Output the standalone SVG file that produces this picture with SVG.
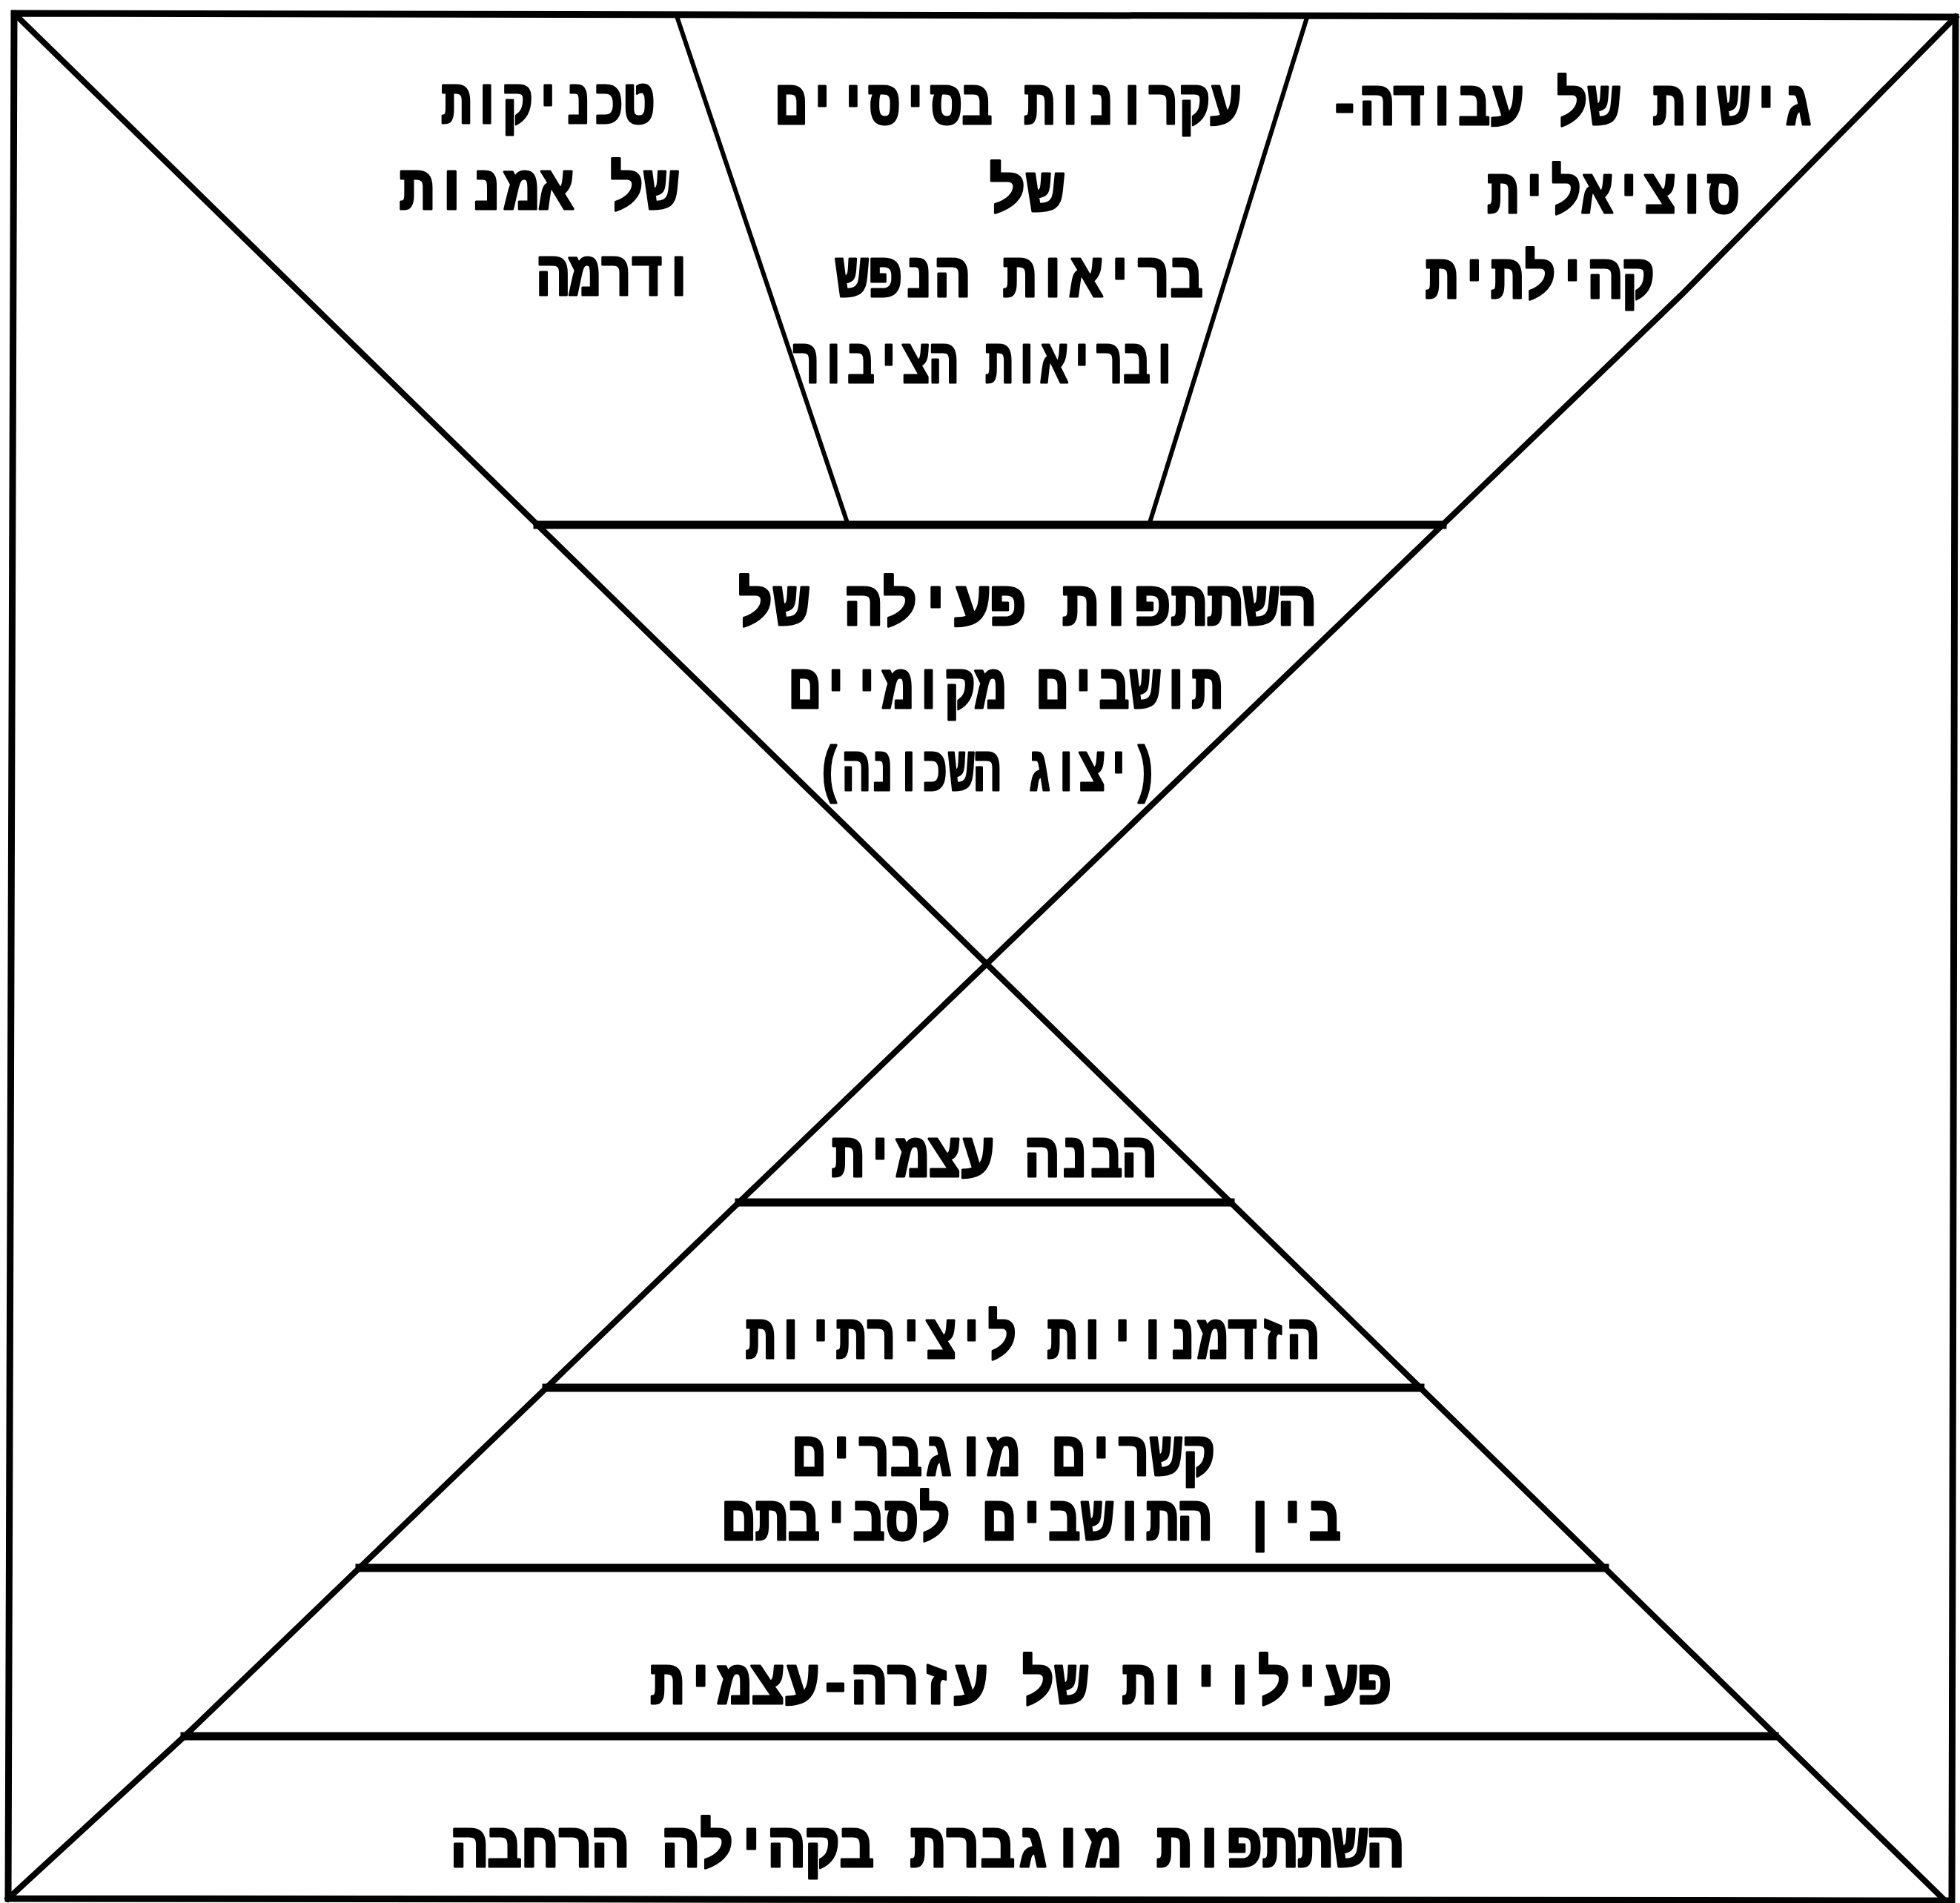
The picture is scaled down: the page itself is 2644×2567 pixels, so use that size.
<svg xmlns="http://www.w3.org/2000/svg" width="2644" height="2567" viewBox="0 0 2644 2567">
<style>
.ln{stroke:#000;fill:none;stroke-linecap:square;stroke-linejoin:miter}
.bd{stroke-width:9}
.dg{stroke-width:8}
.hz{stroke-width:11}
.sl{stroke-width:6}
.t{font-family:"Liberation Mono","DejaVu Sans Mono",monospace;font-weight:bold;font-size:84px;fill:#000;stroke:#000;stroke-width:3;stroke-linejoin:round;text-anchor:middle;direction:rtl;unicode-bidi:embed}
</style>
<rect x="0" y="0" width="2644" height="2567" fill="#fff"/>
<g id="connectors">
<polygon class="ln bd" points="19,18 2638,23 2633,2564 11,2561"/>
<line class="ln dg" x1="20" y1="19" x2="2624" y2="2564"/>
<polyline class="ln dg" points="2638,23 2268,398 249,2342 11,2561"/>
<line class="ln hz" x1="725" y1="708" x2="1946" y2="708"/>
<line class="ln sl" x1="914" y1="25" x2="1144" y2="708"/>
<line class="ln sl" x1="1762" y1="27" x2="1550" y2="708"/>
<line class="ln hz" x1="997" y1="1622" x2="1660" y2="1622"/>
<line class="ln hz" x1="737" y1="1872" x2="1916" y2="1872"/>
<line class="ln hz" x1="485" y1="2115" x2="2165" y2="2115"/>
<line class="ln hz" x1="249" y1="2342" x2="2394" y2="2342"/>
</g>
<g id="node-social-work">
<text class="t" x="2120" y="168" textLength="656" lengthAdjust="spacingAndGlyphs">גישות של עבודה-</text>
<text class="t" x="2176" y="287" textLength="340" lengthAdjust="spacingAndGlyphs">סוציאלית</text>
<text class="t" x="2077" y="402" textLength="309" lengthAdjust="spacingAndGlyphs">קהילתית</text>
</g>
<g id="node-mental-health">
<text class="t" x="1360" y="167" textLength="627" lengthAdjust="spacingAndGlyphs">עקרונות בסיסיים</text>
<text class="t" x="1384" y="285" textLength="103" lengthAdjust="spacingAndGlyphs">של</text>
<text class="t" x="1375" y="400" textLength="497" lengthAdjust="spacingAndGlyphs">בריאות הנפש</text>
<text class="t" x="1329" y="516" textLength="521" lengthAdjust="spacingAndGlyphs">ובריאות הציבור</text>
</g>
<g id="node-art-drama">
<text class="t" x="739" y="166" textLength="288" lengthAdjust="spacingAndGlyphs">טכניקות</text>
<text class="t" x="727" y="282" textLength="377" lengthAdjust="spacingAndGlyphs">של אמנות</text>
<text class="t" x="831" y="398" textLength="212" lengthAdjust="spacingAndGlyphs">ודרמה</text>
</g>
<g id="node-participation">
<text class="t" x="1384" y="843" textLength="780" lengthAdjust="spacingAndGlyphs">השתתפות פעילה של</text>
<text class="t" x="1357" y="955" textLength="584" lengthAdjust="spacingAndGlyphs">תושבים מקומיים</text>
<text class="t" x="1332" y="1066" textLength="460" lengthAdjust="spacingAndGlyphs">(יצוג השכונה)</text>
</g>
<g id="node-self-understanding">
<text class="t" x="1340" y="1587" textLength="437" lengthAdjust="spacingAndGlyphs">הבנה עצמית</text>
</g>
<g id="node-creativity">
<text class="t" x="1392" y="1832" textLength="773" lengthAdjust="spacingAndGlyphs">הזדמנויות ליצירתיות</text>
</g>
<g id="node-connections">
<text class="t" x="1354" y="1990" textLength="569" lengthAdjust="spacingAndGlyphs">קשרים מוגברים</text>
<text class="t" x="1392" y="2077" textLength="835" lengthAdjust="spacingAndGlyphs">בין התושבים לסביבתם</text>
</g>
<g id="node-self-help">
<text class="t" x="1377" y="2298" textLength="1000" lengthAdjust="spacingAndGlyphs">פעילויות של עזרה-עצמית</text>
</g>
<g id="node-community">
<text class="t" x="1251" y="2518" textLength="1283" lengthAdjust="spacingAndGlyphs">השתתפות מוגברת בקהילה הרחבה</text>
</g>
</svg>
